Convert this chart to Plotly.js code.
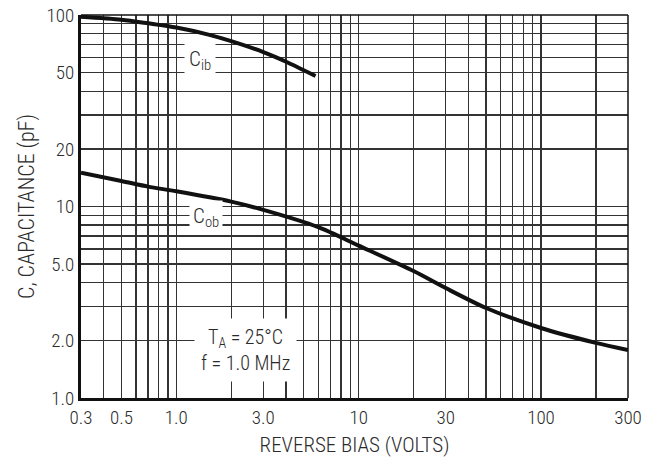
<!DOCTYPE html>
<html>
<head>
<meta charset="utf-8">
<script src="https://cdn.plot.ly/plotly-3.0.1.min.js"></script>
<style>html,body{margin:0;padding:0;background:#fff;}#chart{width:646px;height:460px;}</style>
</head>
<body>
<div id="chart"></div>
<script>
// Cib curve (input capacitance)
const cibBias = [0.3, 0.5, 0.7, 1.0, 1.5, 2.0, 3.0, 4.0, 5.8];
const cibCap  = [98, 94.5, 90.5, 86, 79, 73, 64, 57, 48];
// Cob curve (output capacitance)
const cobBias = [0.3, 0.5, 0.7, 1.0, 2.0, 3.0, 6.0, 10, 20, 30, 50, 100, 200, 300];
const cobCap  = [15, 13.6, 12.7, 12.0, 10.6, 9.6, 7.8, 6.25, 4.6, 3.75, 2.95, 2.32, 1.94, 1.78];

// Axis ticks / grid
const xTickVals = [0.3, 0.5, 1, 3, 10, 30, 100, 300];
const xTickText = ['0.3', '0.5', '1.0', '3.0', '10', '30', '100', '300'];
const xGrid = [0.3,0.4,0.5,0.6,0.7,0.8,0.9,1,2,3,4,5,6,7,8,9,10,20,30,40,50,60,70,80,90,100,200,300];
const yTickVals = [1, 2, 5, 10, 20, 50, 100];
const yTickText = ['1.0', '2.0', '5.0', '10', '20', '50', '100'];
const yGrid = [1,2,3,4,5,6,7,8,9,10,20,30,40,50,60,70,80,90,100];

const FONT = "'Liberation Sans Narrow', 'Arial Narrow', 'Roboto Condensed', 'Liberation Sans', Arial, sans-serif";
const TXT = '#2a2a2a';

const lineStyle = {color:'#111', width:4, shape:'spline', smoothing:0.8};
const traces = [
  {x:cibBias, y:cibCap, mode:'lines', line:lineStyle, hoverinfo:'skip', showlegend:false},
  {x:cobBias, y:cobCap, mode:'lines', line:lineStyle, hoverinfo:'skip', showlegend:false}
];

const gridColor = '#333';
const layout = {
  width:646, height:460,
  margin:{l:81, r:18, t:15, b:62},
  paper_bgcolor:'#fff', plot_bgcolor:'#fff',
  font:{family:FONT, size:19, color:TXT, weight:300},
  showlegend:false,
  xaxis:{
    type:'log', range:[Math.log10(0.3), Math.log10(300)],
    tickmode:'array', tickvals:xTickVals, ticktext:xTickText,
    showgrid:true, gridcolor:gridColor, gridwidth:1.4,
    minor:{tickmode:'array', tickvals:xGrid, showgrid:true, gridcolor:gridColor, gridwidth:1.4, ticks:''},
    showline:true, linecolor:'#111', linewidth:3, mirror:false,
    ticks:'', zeroline:false, fixedrange:true,
    tickfont:{family:FONT, size:19, color:TXT, weight:300},
    title:{text:'REVERSE BIAS (VOLTS)', font:{family:FONT, size:21, color:TXT, weight:300}, standoff:10}
  },
  yaxis:{
    type:'log', range:[0, 2],
    tickmode:'array', tickvals:yTickVals, ticktext:yTickText,
    showgrid:true, gridcolor:gridColor, gridwidth:1.4,
    minor:{tickmode:'array', tickvals:yGrid, showgrid:true, gridcolor:gridColor, gridwidth:1.4, ticks:''},
    showline:true, linecolor:'#111', linewidth:3, mirror:false,
    ticks:'', zeroline:false, fixedrange:true,
    tickfont:{family:FONT, size:19, color:TXT, weight:300},
    title:{text:'C, CAPACITANCE (pF)', font:{family:FONT, size:22, color:TXT, weight:300}, standoff:6}
  },
  shapes:[
    {type:'line', xref:'paper', yref:'paper', x0:0, x1:1, y0:1, y1:1, line:{color:'#111', width:1.5}},
    {type:'line', xref:'paper', yref:'paper', x0:1, x1:1, y0:0, y1:1, line:{color:'#111', width:1.5}}
  ],
  annotations:[
    {x:Math.log10(1.35), y:Math.log10(58), xref:'x', yref:'y', text:'C<sub>ib</sub>', showarrow:false,
     bgcolor:'#fff', borderpad:4, font:{family:FONT, size:21, color:TXT, weight:300}},
    {x:Math.log10(1.45), y:Math.log10(8.8), xref:'x', yref:'y', text:'C<sub>ob</sub>', showarrow:false,
     bgcolor:'#fff', borderpad:3, font:{family:FONT, size:21, color:TXT, weight:300}},
    {x:Math.log10(2.4), y:Math.log10(1.78), xref:'x', yref:'y',
     text:'T<sub>A</sub> = 25°C<br>f = 1.0 MHz', showarrow:false, align:'center',
     bgcolor:'#fff', borderpad:6, font:{family:FONT, size:20, color:TXT, weight:300}}
  ]
};

Plotly.newPlot('chart', traces, layout, {displayModeBar:false, staticPlot:true});
</script>
</body>
</html>
